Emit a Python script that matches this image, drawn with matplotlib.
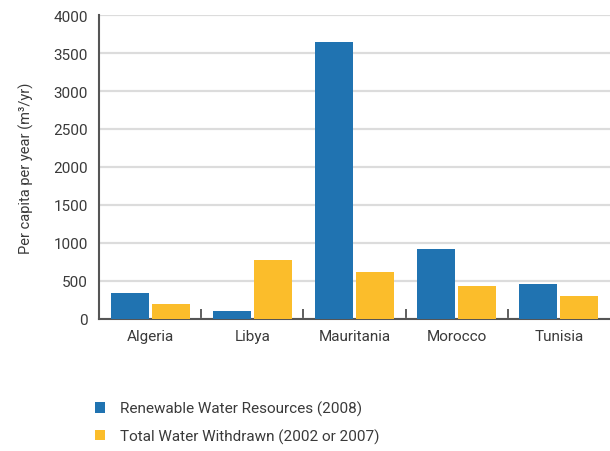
import numpy as np
import matplotlib.pyplot as plt

countries = ['Algeria', 'Libya', 'Mauritania', 'Morocco', 'Tunisia']
renewable = [342, 105, 3645, 921, 461]
withdrawn = [197, 780, 618, 434, 303]
yticks = [0, 500, 1000, 1500, 2000, 2500, 3000, 3500, 4000]

blue = '#2073b1'
yellow = '#fbbd2b'
text_c = '#3a3a3a'

plt.rcParams['font.family'] = ['Roboto', 'DejaVu Sans']

fig = plt.figure(figsize=(6.10, 4.52), dpi=100)
ax = fig.add_axes([99 / 610, 1 - 320 / 452, 511 / 610, 304 / 452])

x = np.arange(len(countries))
w = 0.372
ax.bar(x - w / 2 - 0.015, renewable, width=w, color=blue, label='Renewable Water Resources (2008)', zorder=3)
ax.bar(x + w / 2 + 0.015, withdrawn, width=w, color=yellow, label='Total Water Withdrawn (2002 or 2007)', zorder=3)

ax.set_xlim(-0.5, len(countries) - 0.5)
ax.set_ylim(0, 4000)
ax.set_yticks(yticks)
ax.set_yticklabels([str(v) for v in yticks], fontsize=11, color=text_c)
ax.yaxis.grid(True, color='#dcdcdc', lw=1.6, zorder=0)
ax.tick_params(axis='y', length=0, pad=8)

# category labels at centres, tick marks at the boundaries
ax.set_xticks(x)
ax.set_xticklabels(countries, fontsize=11, color=text_c)
ax.tick_params(axis='x', length=0, pad=7)
ax.set_xticks(x[:-1] + 0.5, minor=True)
ax.tick_params(axis='x', which='minor', direction='in', length=7, width=1.2, color='#444444')

for s in ['top', 'right']:
    ax.spines[s].set_visible(False)
for s in ['left', 'bottom']:
    ax.spines[s].set_color('#555555')
    ax.spines[s].set_linewidth(1.5)

ax.set_ylabel('Per capita per year (m³/yr)', fontsize=10.5, color=text_c, labelpad=14)

handles, labels = ax.get_legend_handles_labels()
fig.legend(handles, labels, loc='upper left', bbox_to_anchor=(95 / 610, 1 - 402 / 452),
           frameon=False, fontsize=11, labelcolor=text_c, handlelength=0.65, handleheight=0.65,
           handletextpad=1.0, labelspacing=0.8, borderpad=0, borderaxespad=0)

fig.savefig('out.png', dpi=100)
